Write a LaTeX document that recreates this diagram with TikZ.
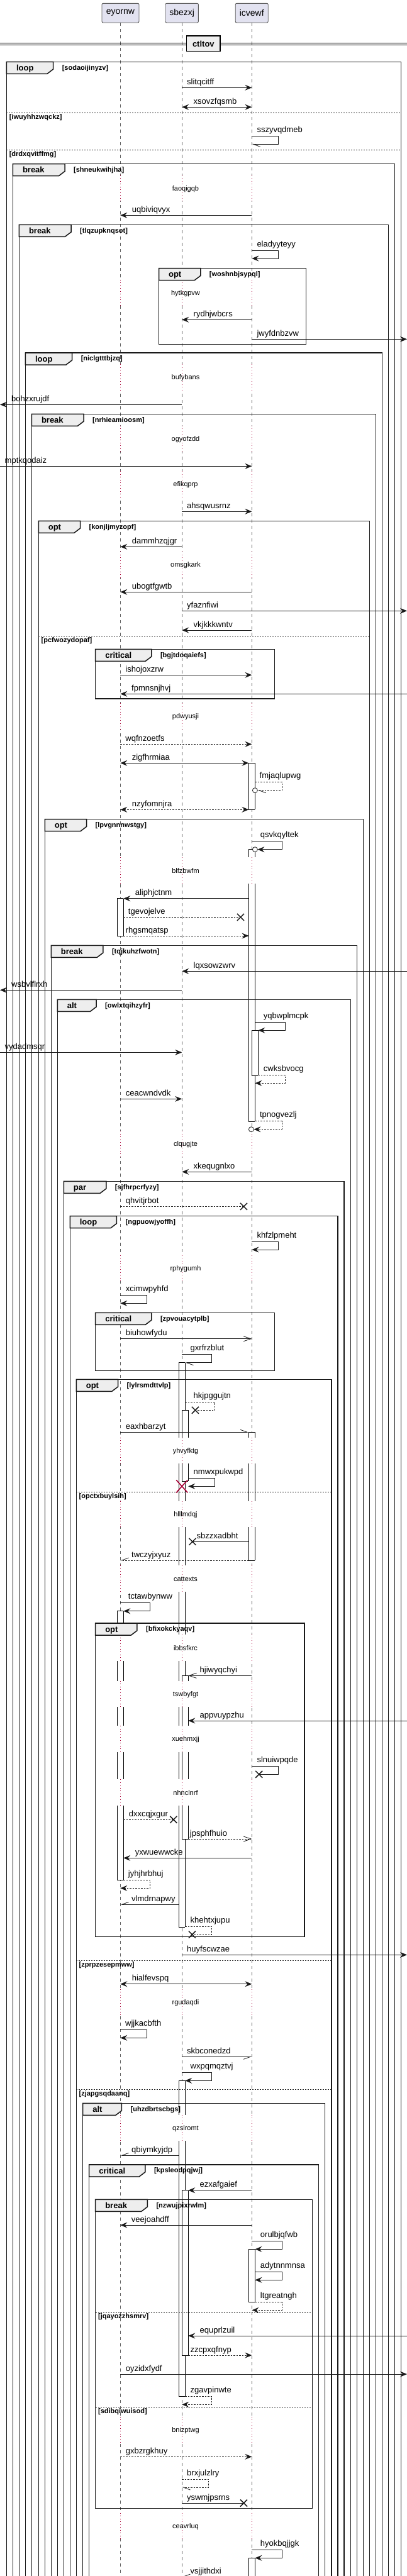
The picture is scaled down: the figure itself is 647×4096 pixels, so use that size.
\documentclass[tikz,border=0pt]{standalone}
\usepackage{fontspec}
\setmainfont{Liberation Sans}
\usetikzlibrary{arrows.meta}
\definecolor{dlyc}{RGB}{168,0,54}
\definecolor{partc}{RGB}{226,226,240}
\definecolor{tabc}{RGB}{238,238,238}
\def\xE{191.25}
\def\xS{289.2}
\def\xI{400.4}
\newcommand\frm[7]{%
 \draw[frame] (#1,#2) rectangle (#3,#4);
 \draw[frame,fill=tabc] (#1,#2) -- ++(#7,0) -- ++(0,11.7) -- ++(-9.6,7.3) -- (#1,#2+19) -- cycle;
 \node[kindt] (k#6) at (#1+15.4,#2+14) {#5};
 \node[condt] (c#6) at (#1+#7+14,#2+12.7) {[#6]};}
\newcommand\sepl[4]{\draw[sepline] (#1,#3) -- (#2,#3); \node[condt] (s#4) at (#1+4.2,#3+9.7) {[#4]};}
\newcommand\dly[2]{%
 \foreach \xx in {191.25,289.2,400.4}{\draw[white,line width=2pt] (\xx,#1-21.7) -- (\xx,#1+20); \draw[dlyl] (\xx,#1-21.7) -- (\xx,#1+20);}
 \node[dtext] (#2) at (295,#1) {#2};}
\newcommand\act[5]{%
 \fill[white] (#1,#2) rectangle (#1+10,#3);
 \draw[actl] (#1,#2) -- (#1,#3) (#1+10,#2) -- (#1+10,#3);
 \ifnum#4=1 \draw[actl] (#1,#2) -- (#1+10,#2);\fi
 \ifnum#5=1 \draw[actl] (#1,#3) -- (#1+10,#3);\fi}
\newcommand\lab[3]{\node[lbl] (#3) at (#1,#2-5) {#3};}
\newcommand\slab[3]{\node[lbl] (#3) at (#1,#2-6) {#3};}
\newcommand\xm[2]{\draw[xmk] (#1-5.5,#2-5.5) -- (#1+5.5,#2+5.5) (#1-5.5,#2+5.5) -- (#1+5.5,#2-5.5);}
\newcommand\cir[2]{\draw[m,fill=white] (#1,#2) circle[radius=4pt];}
\begin{document}
\begin{tikzpicture}[x=1pt,y=-1pt,
 life/.style={dash pattern=on 5pt off 5pt, line width=0.6pt, gray!75!black},
 dlyl/.style={dash pattern=on 1pt off 3.5pt, line width=0.8pt, dlyc},
 dtext/.style={font=\fontsize{11}{13}\selectfont, inner sep=0pt},
 lbl/.style={font=\fontsize{13}{15}\selectfont, inner sep=0pt, anchor=base west},
 kindt/.style={font=\bfseries\fontsize{13}{15}\selectfont, inner sep=0pt, anchor=base west},
 condt/.style={font=\bfseries\fontsize{11}{13}\selectfont, inner sep=0pt, anchor=base west},
 frame/.style={line width=1.5pt, black!90},
 sepline/.style={line width=0.8pt, dash pattern=on 2pt off 2pt, black!90},
 actl/.style={line width=0.8pt, black},
 part/.style={draw=gray!70!black, line width=0.9pt, fill=partc, rounded corners=2pt, font=\fontsize{14}{16}\selectfont, inner sep=0pt, minimum height=30.7pt},
 m/.style={line width=0.8pt, black!90},
 d/.style={dash pattern=on 2.5pt off 2pt},
 ft/.style={-{Stealth[length=11pt,width=9pt,inset=4pt]}},
 bt/.style={{Stealth[length=11pt,width=9pt,inset=4pt]}-{Stealth[length=11pt,width=9pt,inset=4pt]}},
 ot/.style={-{Straight Barb[length=12pt,width=8pt]}},
 hl/.style={-{Straight Barb[length=11pt,width=8pt,left]}},
 hr/.style={-{Straight Barb[length=11pt,width=8pt,right]}},
 xmk/.style={line width=1.5pt, black!90}]
\useasboundingbox (0,0) rectangle (647,4096);
% lifelines
\foreach \xx in {191.25,289.2,400.4} \draw[life] (\xx,36) -- (\xx,4110);
% participants
\node[part, minimum width=59pt] (eyornw) at (191.5,20.65) {eyornw};
\node[part, minimum width=52.4pt] (sbezxj) at (289.2,20.65) {sbezxj};
\node[part, minimum width=52pt] (icvewf) at (400.2,20.65) {icvewf};
% divider
\draw[line width=0.8pt] (0,68.3) -- (647,68.3) (0,71) -- (647,71);
\node[draw, line width=1.5pt, fill=tabc, minimum width=53.3pt, minimum height=24.7pt, inner sep=0pt, font=\bfseries\fontsize{13}{15}\selectfont] (ctltov) at (323.35,69.35) {ctltov};
% delays
\dly{300.3}{faoqigqb}
\dly{466.3}{hytkgpvw}
\dly{601}{bufybans}
\dly{698.3}{ogyofzdd}
\dly{771}{efikqprp}
\dly{899}{omsgkark}
\dly{1140}{pdwyusji}
\dly{1385}{blfzbwfm}
\dly{1820}{clqugjte}
\dly{2017.3}{rphygumh}
\dly{2307.3}{yhvyfktg}
\dly{2408.3}{hlllmdqj}
\dly{2511}{cattexts}
\dly{2621}{ibbsfkrc}
\dly{2694.3}{tswbyfgt}
\dly{2766}{xuehmxjj}
\dly{2851}{nhnclnrf}
\dly{3184.3}{rgudaqdi}
\dly{3384.3}{qzslromt}
\dly{3864.3}{bnizptwg}
\dly{4017.3}{ceavrluq}
% activations
\act{395.4}{1213.3}{1287.3}{1}{1}
\act{395.4}{1350.7}{1363.3}{1}{0}
\act{395.4}{1405}{1783.3}{0}{1}
\act{400.4}{1638.3}{1710}{1}{1}
\act{186.25}{1428.7}{1488}{1}{1}
\act{284.2}{2166.7}{2285.6}{1}{0}
\act{284.2}{2327.3}{2386.6}{0}{0}
\act{284.2}{2428.3}{2489.3}{0}{0}
\act{284.2}{2531}{2599.3}{0}{0}
\act{284.2}{2641}{2672.6}{0}{0}
\act{284.2}{2714.3}{2744.3}{0}{0}
\act{284.2}{2786}{2829.3}{0}{0}
\act{284.2}{2871}{3064}{0}{1}
\act{289.2}{2242.3}{2285.6}{1}{0}
\act{289.2}{2327.3}{2355}{0}{1}
\act{395.4}{2277.3}{2285.6}{1}{0}
\act{395.4}{2327.3}{2386.6}{0}{0}
\act{395.4}{2428.3}{2481}{0}{1}
\act{186.25}{2561.7}{2599.3}{1}{0}
\act{186.25}{2641}{2672.6}{0}{0}
\act{186.25}{2714.3}{2744.3}{0}{0}
\act{186.25}{2786}{2829.3}{0}{0}
\act{186.25}{2871}{2989.3}{0}{1}
\act{289.2}{2664.3}{2672.6}{1}{0}
\act{289.2}{2714.3}{2744.3}{0}{0}
\act{289.2}{2786}{2829.3}{0}{0}
\act{289.2}{2871}{2924}{0}{1}
\act{284.2}{3308.3}{3362.6}{1}{0}
\act{284.2}{3404.3}{3810.7}{0}{1}
\act{289.2}{3482.7}{3745}{1}{1}
\act{395.4}{3576.3}{3660.7}{1}{1}
\act{395.4}{4067.3}{4110}{1}{0}
% frames
\frm{10.4}{98.3}{637.5}{4110}{loop}{sodaoijinyzv}{74.2}
\sepl{10.4}{637.5}{179.3}{iwuyhhzwqckz}
\sepl{10.4}{637.5}{238.3}{drdxqvitffmg}
\frm{20.4}{260.7}{627.5}{4110}{break}{shneukwihjha}{82.6}
\frm{30.4}{357.3}{617.5}{4110}{break}{tlqzupknqsot}{82.6}
\frm{252.5}{426.7}{486.25}{547.7}{opt}{woshnbjsypql}{66.25}
\frm{40.4}{561}{607.5}{4110}{loop}{niclgtttbjzq}{74.2}
\frm{50.4}{658.3}{597.5}{4110}{break}{nrhieamioosm}{82.6}
\frm{61.25}{828.3}{587.5}{4110}{opt}{konjljmyzopf}{66.25}
\sepl{61.25}{587.5}{1011.3}{pcfwozydopaf}
\frm{151.7}{1032.3}{436.7}{1111}{critical}{bgjtdoqaiefs}{89.1}
\frm{71.25}{1302.7}{577.5}{4110}{opt}{lpvgnnnwstgy}{66.25}
\frm{81.25}{1503.3}{567.5}{4110}{break}{tqjkuhzfwotn}{82.6}
\frm{91.25}{1589.3}{557.5}{4110}{alt}{owlxtqihzyfr}{61.75}
\frm{101.25}{1878.3}{547}{4110}{par}{sjfhrpcrfyzy}{67.5}
\frm{111.25}{1933.7}{537}{4110}{loop}{ngpuowjyoffh}{74.2}
\frm{151.7}{2087.3}{436.7}{2179.3}{critical}{zpvouacytplb}{89.1}
\frm{121.25}{2193.3}{527}{4110}{opt}{lylrsmdttvlp}{66.25}
\sepl{121.25}{527}{2372.3}{opctxbuylsih}
\sepl{121.25}{527}{3117.3}{zprpzesepmww}
\sepl{121.25}{527}{3322.3}{zjapgsqdaanq}
\frm{151.7}{2581}{484.2}{3079.3}{opt}{bfixokckyaqv}{66.25}
\frm{131.7}{3344.3}{516.7}{4110}{alt}{uhzdbrtscbgs}{61.75}
\frm{141.7}{3442}{506.7}{4110}{critical}{kpsleodpqjwj}{89.1}
\frm{151.7}{3497.3}{496.7}{3988.3}{break}{nzwujpixrwlm}{82.6}
\sepl{151.7}{496.7}{3677}{jqayozzhsmrv}
\sepl{151.7}{496.7}{3827.3}{sdibqiwuisod}
% messages
\draw[m,ft] (\xS,139.3) -- (\xI,139.3); \lab{297}{139.3}{slitqcitff}
\draw[m,bt] (\xS,170.3) -- (\xI,170.3); \lab{307.5}{170.3}{xsovzfqsmb}
\draw[m,hl] (\xI,216.7) -- (442.5,216.7) -- (442.5,229.3) -- (\xI,229.3); \slab{408.3}{216.7}{sszyvqdmeb}
\draw[m,ft] (\xI,342.3) -- (\xE,342.3); \lab{209.6}{342.3}{uqbiviqvyx}
\draw[m,ft] (\xI,398.3) -- (442.5,398.3) -- (442.5,411) -- (\xI,411); \slab{408.3}{398.3}{eladyyteyy}
\draw[m,ft] (\xI,508.3) -- (\xS,508.3); \lab{307.5}{508.3}{rydhjwbcrs}
\draw[m,ft] (\xI,539.3) -- (647,539.3); \lab{408.3}{539.3}{jwyfdnbzvw}
\draw[m,ft] (\xS,643.3) -- (0,643.3); \lab{18}{643.3}{bohzxrujdf}
\draw[m,ft] (0,741.3) -- (\xI,741.3); \lab{7.5}{741.3}{mptkqodaiz}
\draw[m,ft] (\xS,813.3) -- (\xI,813.3); \lab{297}{813.3}{ahsqwusrnz}
\draw[m,ft] (\xS,869.3) -- (\xE,869.3); \lab{209.6}{869.3}{dammhzqjgr}
\draw[m,ft] (\xI,941.3) -- (\xE,941.3); \lab{209.6}{941.3}{ubogtfgwtb}
\draw[m,ft] (\xS,971.3) -- (647,971.3); \lab{297}{971.3}{yfaznfiwi}
\draw[m,ft] (\xI,1002) -- (\xS,1002); \lab{307.5}{1002}{vkjkkkwntv}
\draw[m,ft] (\xE,1073.3) -- (\xI,1073.3); \lab{199.2}{1073.3}{ishojoxzrw}
\draw[m,ft] (647,1103.3) -- (\xE,1103.3); \lab{209}{1103.3}{fpmnsnjhvj}
\draw[m,d,ft] (\xE,1183.3) -- (\xI,1183.3); \lab{199.2}{1183.3}{wqfnzoetfs}
\draw[m,bt] (\xE,1213.3) -- (395.4,1213.3); \lab{209.6}{1213.3}{zigfhrmiaa}
\draw[m,d,hl] (405.4,1243.3) -- (448,1243.3) -- (448,1256.7) -- (409.4,1256.7); \cir{405.4}{1256.7} \slab{412.5}{1243.3}{fmjaqlupwg}
\draw[m,d,bt] (\xE,1287.3) -- (395.4,1287.3); \lab{209.6}{1287.3}{nzyfomnjra}
\draw[m,ft] (\xI,1337.3) -- (448,1337.3) -- (448,1350.7) -- (409.4,1350.7); \cir{405.4}{1350.7} \slab{413.75}{1337.3}{qsvkqyltek}
\draw[m,ft] (395.4,1428.7) -- (196.25,1428.7); \lab{214.6}{1428.7}{aliphjctnm}
\draw[m,d] (196.25,1458.3) -- (382.5,1458.3); \xm{382.5}{1458.3} \lab{203.75}{1458.3}{tgevojelve}
\draw[m,d,ft] (196.25,1488) -- (395.4,1488); \lab{199.6}{1488}{rhgsmqatsp}
\draw[m,ft] (647,1544.3) -- (\xS,1544.3); \lab{307.5}{1544.3}{lqxsowzwrv}
\draw[m,ft] (\xS,1574.3) -- (0,1574.3); \lab{18}{1574.3}{wsbvlflrxh}
\draw[m,ft] (405.4,1625.7) -- (453,1625.7) -- (453,1638.3) -- (410.4,1638.3); \slab{418.75}{1625.7}{yqbwplmcpk}
\draw[m,ft] (0,1673.3) -- (\xS,1673.3); \lab{7.5}{1673.3}{vydadmsqr}
\draw[m,d,ft] (410.4,1709.3) -- (453,1709.3) -- (453,1722.3) -- (405.4,1722.3); \slab{418.75}{1709.3}{cwksbvocg}
\draw[m,ft] (\xE,1747.3) -- (\xS,1747.3); \lab{199.6}{1747.3}{ceacwndvdk}
\draw[m,d,ft] (405.4,1782.7) -- (448,1782.7) -- (448,1795.7) -- (403.4,1795.7); \cir{399.4}{1795.7} \slab{412.9}{1782.7}{tpnogvezlj}
\draw[m,ft] (\xI,1863.3) -- (\xS,1863.3); \lab{307.5}{1863.3}{xkequgnlxo}
\draw[m,d] (\xE,1918.3) -- (387.5,1918.3); \xm{387.5}{1918.3} \lab{199.6}{1918.3}{qhvitjrbot}
\draw[m,ft] (\xI,1974.3) -- (442.5,1974.3) -- (442.5,1987) -- (\xI,1987); \slab{408.3}{1974.3}{khfzlpmeht}
\draw[m,ft] (\xE,2059.3) -- (233.75,2059.3) -- (233.75,2072.3) -- (\xE,2072.3); \slab{199.6}{2059.3}{xcimwpyhfd}
\draw[m,ot] (\xE,2128.7) -- (\xI,2128.7); \lab{199.6}{2128.7}{biuhowfydu}
\draw[m,hl] (\xS,2153.7) -- (336.7,2153.7) -- (336.7,2166.7) -- (294.2,2166.7); \slab{302.5}{2153.7}{gxrfrzblut}
\draw[m,d] (294.2,2229.3) -- (341.7,2229.3) -- (341.7,2242.3) -- (310.4,2242.3); \xm{310.4}{2242.3} \slab{307.5}{2229.3}{hkjpggujtn}
\draw[m,hl] (\xE,2277.3) -- (395.4,2277.3); \lab{199.6}{2277.3}{eaxhbarzyt}
\draw[m,ft] (299.2,2350.3) -- (341.7,2350.3) -- (341.7,2363.3) -- (299.2,2363.3); \slab{307.5}{2350.3}{nmwxpukwpd}
\draw[line width=1.6pt, dlyc] (280.2,2353.3) -- (298.2,2373.3) (280.2,2373.3) -- (298.2,2353.3);
\draw[m] (395.4,2451.3) -- (306,2451.3); \xm{306}{2451.3} \lab{312.5}{2451.3}{sbzzxadbht}
\draw[m,d,hr] (395.4,2481) -- (\xE,2481); \lab{209}{2481}{twczyjxyuz}
\draw[m,ft] (\xE,2548.7) -- (238.75,2548.7) -- (238.75,2561.7) -- (196.25,2561.7); \slab{203.75}{2548.7}{tctawbynww}
\draw[m,ot] (\xI,2664.3) -- (299.2,2664.3); \lab{317.5}{2664.3}{hjiwyqchyi}
\draw[m,ft] (647,2736) -- (299.2,2736); \lab{317.5}{2736}{appvuypzhu}
\draw[m] (\xI,2808.3) -- (442.5,2808.3) -- (442.5,2821.3) -- (411.7,2821.3); \xm{411.7}{2821.3} \slab{408.3}{2808.3}{slnuiwpqde}
\draw[m,d] (196.25,2893.3) -- (275.8,2893.3); \xm{275.8}{2893.3} \lab{204.6}{2893.3}{dxxcqjxgur}
\draw[m,d,ot] (299.2,2924) -- (\xI,2924); \lab{301.7}{2924}{jpsphfhuio}
\draw[m,ft] (\xI,2954.3) -- (196.25,2954.3); \lab{214.6}{2954.3}{yxwuewwcke}
\draw[m,d,ft] (196.25,2989.3) -- (238.75,2989.3) -- (238.75,3002.3) -- (\xE,3002.3); \slab{203.75}{2989.3}{jyhjhrbhuj}
\draw[m,hr] (284.2,3028.3) -- (\xE,3028.3); \lab{209}{3028.3}{vlmdrnapwy}
\draw[m,d] (294.2,3063.3) -- (336.7,3063.3) -- (336.7,3076) -- (305.4,3076); \xm{305.4}{3076} \slab{302.5}{3063.3}{khehtxjupu}
\draw[m,ft] (\xS,3108.3) -- (647,3108.3); \lab{297}{3108.3}{huyfscwzae}
\draw[m,bt] (\xE,3154.7) -- (\xI,3154.7); \lab{209.6}{3154.7}{hialfevspq}
\draw[m,ft] (\xE,3227.3) -- (233.75,3227.3) -- (233.75,3240.3) -- (\xE,3240.3); \slab{199}{3227.3}{wjjkacbfth}
\draw[m,hr] (\xS,3270.3) -- (\xI,3270.3); \lab{297}{3270.3}{skbconedzd}
\draw[m,ft] (\xS,3295.3) -- (336.7,3295.3) -- (336.7,3308.3) -- (294.2,3308.3); \slab{302.5}{3295.3}{wxpqmqztvj}
\draw[m,hr] (284.2,3427.3) -- (\xE,3427.3); \lab{209}{3427.3}{qbiymkyjdp}
\draw[m,ft] (\xI,3482.7) -- (299.2,3482.7); \lab{317.5}{3482.7}{ezxafgaief}
\draw[m,ft] (\xI,3538) -- (\xE,3538); \lab{208.75}{3538}{veejoahdff}
\draw[m,ft] (\xI,3563.3) -- (448,3563.3) -- (448,3576.3) -- (405.4,3576.3); \slab{413.75}{3563.3}{orulbjqfwb}
\draw[m,ft] (405.4,3612.3) -- (448,3612.3) -- (448,3625.3) -- (405.4,3625.3); \slab{413.75}{3612.3}{adytnnmnsa}
\draw[m,d,ft] (405.4,3660.7) -- (448,3660.7) -- (448,3673.3) -- (\xI,3673.3); \slab{413.75}{3660.7}{ltgreatngh}
\draw[m,ft] (647,3714) -- (299.2,3714); \lab{317.5}{3714}{equprlzuil}
\draw[m,d,ft] (299.2,3745) -- (\xI,3745); \lab{302.5}{3745}{zzcpxqfnyp}
\draw[m,ft] (\xE,3775) -- (647,3775); \lab{199.6}{3775}{oyzidxfydf}
\draw[m,d,ft] (294.2,3810.7) -- (336.7,3810.7) -- (336.7,3823.3) -- (\xS,3823.3); \slab{302.5}{3810.7}{zgavpinwte}
\draw[m,d,ft] (\xE,3906.3) -- (\xI,3906.3); \lab{199.6}{3906.3}{gxbzrgkhuy}
\draw[m,d,hl] (\xS,3942.3) -- (331.7,3942.3) -- (331.7,3955) -- (\xS,3955); \slab{297}{3942.3}{brxjulzlry}
\draw[m] (\xS,3980) -- (387.5,3980); \xm{387.5}{3980} \lab{297}{3980}{yswmjpsrns}
\draw[m,ft] (\xI,4054.3) -- (448,4054.3) -- (448,4067.3) -- (405.4,4067.3); \slab{413.75}{4054.3}{hyokbqjjgk}
\draw[m,hr] (395.4,4097) -- (\xS,4097); \lab{302.5}{4097}{vsjjithdxi}
\end{tikzpicture}
\end{document}
